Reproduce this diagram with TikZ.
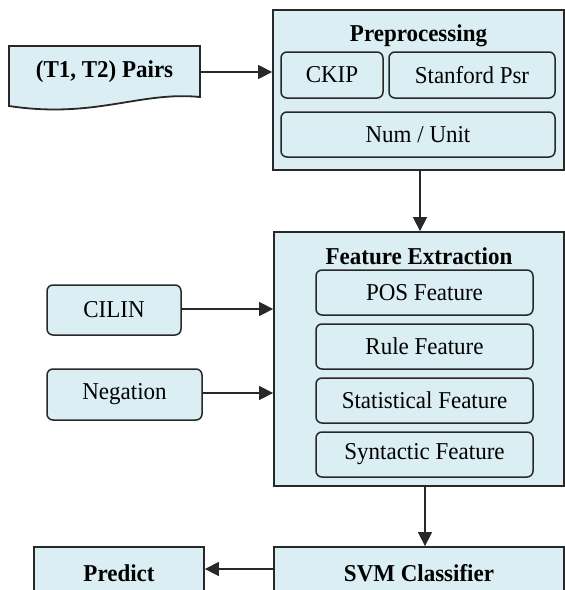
\documentclass[tikz,border=0pt]{standalone}
\usepackage{fontspec}
\setmainfont[FakeStretch=0.95]{Liberation Serif}
\usetikzlibrary{arrows.meta}
\definecolor{boxfill}{RGB}{218,238,243}
\definecolor{boxline}{RGB}{40,40,40}
\tikzset{
  base/.style={fill=boxfill, draw=boxline, inner sep=0pt,
    font=\fontsize{24.2}{28}\selectfont},
  outerbox/.style={base, line width=1.8pt},
  innerbox/.style={base, line width=1.5pt, rounded corners=6pt},
  title/.style={font=\fontsize{24.2}{28}\selectfont\bfseries, inner sep=0pt},
  flow/.style={draw=boxline, line width=1.4pt, -{Triangle[length=14pt,width=14pt]}}
}
\begin{document}
\begin{tikzpicture}[x=1pt,y=-1pt]
\useasboundingbox (0,0) rectangle (565,590);
\clip (0,0) rectangle (565,590);

% Preprocessing block
\node[outerbox, minimum width=291pt, minimum height=160pt] (pre) at (418.5,90) {};
\node[title] (pretitle) at (418.5,36) {Preprocessing};
\node[innerbox, minimum width=102pt, minimum height=46pt] (ckip) at (332,75) {CKIP};
\node[innerbox, minimum width=166pt, minimum height=46pt] (stan) at (472,75) {Stanford Psr};
\node[innerbox, minimum width=274pt, minimum height=45pt] (num) at (418,134.5) {Num / Unit};

% Input document
\draw[fill=boxfill, draw=boxline, line width=1.8pt]
  (9,46) -- (200,46) -- (200,97)
  .. controls (140,91) and (95,119) .. (9,106) -- cycle;
\node[title, minimum width=191pt] (pairs) at (104.5,72) {(T1, T2) Pairs};

% Feature extraction block
\node[outerbox, minimum width=290pt, minimum height=254pt] (feat) at (419,359) {};
\node[title] (feattitle) at (419,256) {Feature Extraction};
\node[innerbox, minimum width=217pt, minimum height=45pt] (pos) at (424.5,292.5) {POS Feature};
\node[innerbox, minimum width=217pt, minimum height=45pt] (rule) at (424.5,346.5) {Rule Feature};
\node[innerbox, minimum width=217pt, minimum height=45pt] (stat) at (424.5,400.5) {Statistical Feature};
\node[innerbox, minimum width=217pt, minimum height=45pt] (synt) at (424.5,454.5) {Syntactic Feature};

% Resources
\node[innerbox, minimum width=134pt, minimum height=50pt] (cilin) at (114,310) {CILIN};
\node[innerbox, minimum width=155pt, minimum height=51pt] (neg) at (124.5,394.5) {Negation};

% Classifier and output
\node[outerbox, minimum width=290pt, minimum height=52pt] (svm) at (419,573) {};
\node[title] (svmtext) at (419,573) {SVM Classifier};
\node[outerbox, minimum width=170pt, minimum height=52pt] (pred) at (119,573) {};
\node[title] (predtext) at (119,573) {Predict};

% Connectors
\draw[flow] (pairs.east) -- (pairs.east -| pre.west);
\coordinate (pdown) at (420,170);
\draw[flow] (pdown) -- (pdown |- feat.north);
\draw[flow] (cilin.east |- 0,309) -- (feat.west |- 0,309);
\draw[flow] (neg.east |- 0,393) -- (feat.west |- 0,393);
\coordinate (fdown) at (425,486);
\draw[flow] (fdown) -- (fdown |- svm.north);
\draw[flow] (svm.west |- 0,569) -- (pred.east |- 0,569);
\end{tikzpicture}
\end{document}
